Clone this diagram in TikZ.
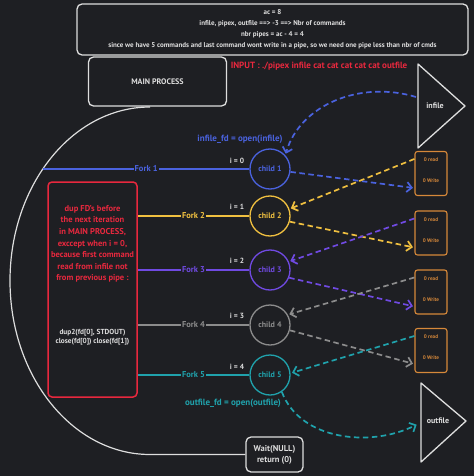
\documentclass[tikz,border=0pt]{standalone}
\usepackage{fontspec}
\setmainfont{PT Sans}
\usetikzlibrary{arrows.meta}
\definecolor{bg}{RGB}{30,31,35}
\definecolor{fg}{RGB}{222,222,222}
\definecolor{cblue}{RGB}{74,98,222}
\definecolor{cyellow}{RGB}{240,192,64}
\definecolor{cpurple}{RGB}{112,74,226}
\definecolor{cgray}{RGB}{140,140,140}
\definecolor{cteal}{RGB}{32,162,172}
\definecolor{cred}{RGB}{232,40,62}
\definecolor{corange}{RGB}{214,136,58}
\tikzset{
 rbox/.style={draw=fg, rounded corners=5pt, line width=1.3pt, inner sep=0pt, text=fg},
 kid/.style={circle, draw, line width=1.3pt, minimum size=40pt, inner sep=0pt, font=\bfseries\fontsize{8}{9}\selectfont},
 pipe/.style={draw=corange, rounded corners=2.5pt, line width=1.1pt, minimum width=32pt, minimum height=44pt, inner sep=0pt},
 ptext/.style={text=corange, font=\bfseries\fontsize{5.2}{6}\selectfont, inner sep=0.5pt},
 dflow/.style={dash pattern=on 5.5pt off 3.5pt, line width=1.7pt, shorten >=1.5pt, -{Straight Barb[length=5pt,width=10pt]}},
 fork/.style={line width=1.3pt},
 flab/.style={fill=bg, inner sep=1pt, font=\bfseries\fontsize{8.5}{9}\selectfont},
 ilab/.style={text=fg, font=\bfseries\fontsize{7.5}{9}\selectfont},
 tri/.style={draw=fg, line width=1.3pt, line join=round},
}
\begin{document}
\begin{tikzpicture}[x=1pt,y=-1pt,font=\bfseries\fontsize{7}{9}\selectfont]
\fill[bg] (0,0) rectangle (474,476);
\useasboundingbox (0,0) rectangle (474,476);

% top note
\node[rbox, minimum width=391pt, minimum height=51pt, align=center, font=\bfseries\fontsize{7}{11}\selectfont] (tb) at (272.5,29.5)
 {ac = 8\\infile, pipex, outfile ==> -3 ==> Nbr of commands\\nbr pipes = ac - 4 = 4\\since we have 5 commands and last command wont write in a pipe, so we need one pipe less than nbr of cmds};

% main process
\node[rbox, minimum width=138pt, minimum height=49pt, font=\bfseries\fontsize{8}{9}\selectfont] (mp) at (157.5,81.5) {MAIN PROCESS};
\node[text=cred, font=\bfseries\fontsize{9}{10}\selectfont] (inp) at (319,66) {INPUT : ./pipex infile cat cat cat cat cat outfile};

% infile / outfile triangles
\draw[tri] (418,64) -- (465,106) -- (418,148) -- cycle;
\node[text=fg, font=\bfseries\fontsize{8}{9}\selectfont] (inf) at (435,106) {infile};
\coordinate (inL) at (416,97);
\draw[tri] (421,383) -- (466,421) -- (421,462) -- cycle;
\node[text=fg, font=\bfseries\fontsize{8}{9}\selectfont] (outf) at (438,421) {outfile};
\coordinate (outL) at (418,424);

% wait box and the main arc
\node[rbox, minimum width=57pt, minimum height=35pt, align=center, font=\bfseries\fontsize{8.5}{11}\selectfont] (wt) at (274.5,454.5) {Wait(NULL)\\return (0)};
\coordinate (arcTop) at (150,107);
\draw[fg, line width=1.2pt] (arcTop) arc[start angle=90, end angle=270, x radius=140pt, y radius=173.75pt] -- (wt.west);

% red note
\node[draw=cred, rounded corners=4pt, line width=1.5pt, minimum width=89pt, minimum height=215pt] (rb) at (92.5,289.5) {};
\node[text=cred, align=center, font=\bfseries\fontsize{8.5}{11.6}\selectfont] (rt) at (92.5,244)
 {dup FD's before\\the next iteration\\in MAIN PROCESS,\\exccept when i = 0,\\because first command\\read from infile not\\from previous pipe :};
\node[text=fg, align=center, font=\bfseries\fontsize{7.3}{9.5}\selectfont] (rw) at (92.5,337)
 {dup2(fd[0], STDOUT)\\close(fd[0]) close(fd[1])};

% children
\node[kid, draw=cblue, text=cblue] (c1) at (270,169) {child 1};
\node[kid, draw=cyellow, text=cyellow] (c2) at (270,216) {child 2};
\node[kid, draw=cpurple, text=cpurple] (c3) at (270,270) {child 3};
\node[kid, draw=cgray, text=cgray] (c4) at (270,325) {child 4};
\node[kid, draw=cteal, text=cteal] (c5) at (270,375) {child 5};

% fork lines
\coordinate (f1s) at (43,169);
\draw[fork, cblue] (f1s) -- node[flab, text=cblue]{Fork 1} (c1.west);
\draw[fork, cyellow] (rb.east |- c2) -- node[flab, text=cyellow]{Fork 2} (c2.west);
\draw[fork, cpurple] (rb.east |- c3) -- node[flab, text=cpurple]{Fork 3} (c3.west);
\draw[fork, cgray] (rb.east |- c4) -- node[flab, text=cgray]{Fork 4} (c4.west);
\draw[fork, cteal] (rb.east |- c5) -- node[flab, text=cteal]{Fork 5} (c5.west);

\node[ilab] (i0) at (237,161) {i = 0};
\node[ilab] (i1) at (237,207) {i = 1};
\node[ilab] (i2) at (237,261) {i = 2};
\node[ilab] (i3) at (237,316) {i = 3};
\node[ilab] (i4) at (237,367) {i = 4};

% pipes
\node[pipe] (p1) at (431,173.5) {};
\node[ptext] (p1r) at (431,160) {0 read};
\node[ptext] (p1w) at (431,181) {0 Write};
\node[pipe] (p2) at (431,233) {};
\node[ptext] (p2r) at (431,219.5) {0 read};
\node[ptext] (p2w) at (431,240.5) {0 Write};
\node[pipe] (p3) at (431,292) {};
\node[ptext] (p3r) at (431,278.5) {0 read};
\node[ptext] (p3w) at (431,299.5) {0 Write};
\node[pipe] (p4) at (431,350.5) {};
\node[ptext] (p4r) at (431,337) {0 read};
\node[ptext] (p4w) at (431,358) {0 Write};

% data flow
\draw[dflow, cblue] (c1.-8) -- ([yshift=8pt]p1.south west);
\draw[dflow, cyellow] ([yshift=-8pt]p1.north west) -- (c2.20);
\draw[dflow, cyellow] (c2.-16) -- ([yshift=8pt]p2.south west);
\draw[dflow, cpurple] ([yshift=-8pt]p2.north west) -- (c3.24);
\draw[dflow, cpurple] (c3.-22) -- ([yshift=8pt]p3.south west);
\draw[dflow, cgray] ([yshift=-8pt]p3.north west) -- (c4.30);
\draw[dflow, cgray] (c4.-15) -- ([yshift=9pt]p4.south west);
\draw[dflow, cteal] ([yshift=-8pt]p4.north west) -- (c5.5);

\draw[dflow, cblue] (inL) .. controls (360,80) and (300,105) .. (c1.42);
\node[text=cblue, font=\bfseries\fontsize{9}{10}\selectfont] (ifd) at (240,139) {infile\_fd = open(infile)};
\draw[dflow, cteal] (c5.-55) .. controls (300,440) and (370,448) .. (outL);
\node[text=cteal, font=\bfseries\fontsize{9}{10}\selectfont] (ofd) at (233,403) {outfile\_fd = open(outfile)};
\end{tikzpicture}
\end{document}
